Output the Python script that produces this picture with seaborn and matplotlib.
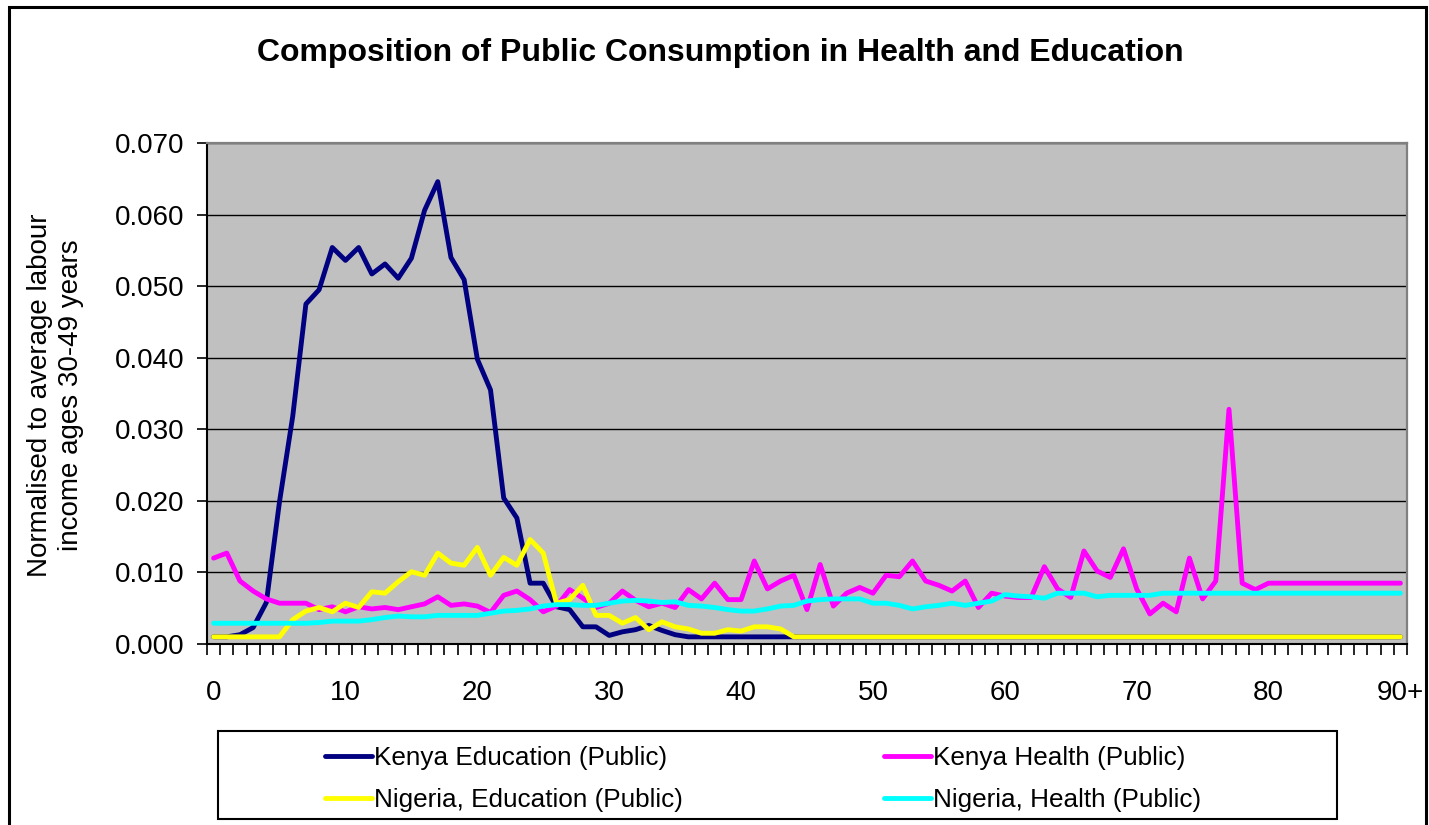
import numpy as np
import pandas as pd
import seaborn as sns
import matplotlib.pyplot as plt
from matplotlib.lines import Line2D
from matplotlib.patches import Rectangle
from matplotlib.ticker import FixedLocator

# eta 0..90 (90 = 90+)
ages = list(range(91))
age_ticks = [0, 10, 20, 30, 40, 50, 60, 70, 80, 90]
age_labels = ['0', '10', '20', '30', '40', '50', '60', '70', '80', '90+']
y_ticks = [0.0, 0.01, 0.02, 0.03, 0.04, 0.05, 0.06, 0.07]

kenya_edu = [
    0.0010, 0.0010, 0.0013, 0.0023, 0.0058, 0.0199, 0.0318, 0.0475, 0.0495, 0.0554,
    0.0536, 0.0554, 0.0517, 0.0531, 0.0511, 0.0539, 0.0606, 0.0646, 0.0540, 0.0509,
    0.0398, 0.0355, 0.0204, 0.0176, 0.0085, 0.0085, 0.0052, 0.0048, 0.0024, 0.0024,
    0.0012, 0.0017, 0.0020, 0.0026, 0.0019, 0.0013, 0.0010, 0.0010, 0.0010, 0.0010,
    0.0010, 0.0010, 0.0010, 0.0010, 0.0010, 0.0010, 0.0010, 0.0010, 0.0010, 0.0010,
    0.0010, 0.0010, 0.0010, 0.0010, 0.0010, 0.0010, 0.0010, 0.0010, 0.0010, 0.0010,
    0.0010, 0.0010, 0.0010, 0.0010, 0.0010, 0.0010, 0.0010, 0.0010, 0.0010, 0.0010,
    0.0010, 0.0010, 0.0010, 0.0010, 0.0010, 0.0010, 0.0010, 0.0010, 0.0010, 0.0010,
    0.0010, 0.0010, 0.0010, 0.0010, 0.0010, 0.0010, 0.0010, 0.0010, 0.0010, 0.0010,
    0.0010,
]

kenya_health = [
    0.0120, 0.0127, 0.0088, 0.0074, 0.0063, 0.0057, 0.0057, 0.0057, 0.0048, 0.0052,
    0.0045, 0.0052, 0.0049, 0.0051, 0.0048, 0.0052, 0.0056, 0.0066, 0.0054, 0.0056,
    0.0053, 0.0044, 0.0068, 0.0074, 0.0062, 0.0045, 0.0053, 0.0076, 0.0064, 0.0051,
    0.0057, 0.0074, 0.0061, 0.0052, 0.0057, 0.0051, 0.0076, 0.0063, 0.0085, 0.0062,
    0.0062, 0.0116, 0.0077, 0.0088, 0.0096, 0.0048, 0.0111, 0.0053, 0.0071, 0.0079,
    0.0071, 0.0096, 0.0094, 0.0116, 0.0088, 0.0082, 0.0074, 0.0088, 0.0051, 0.0071,
    0.0067, 0.0065, 0.0065, 0.0108, 0.0077, 0.0065, 0.0130, 0.0102, 0.0093, 0.0133,
    0.0077, 0.0042, 0.0057, 0.0045, 0.0120, 0.0063, 0.0088, 0.0328, 0.0085, 0.0076,
    0.0085, 0.0085, 0.0085, 0.0085, 0.0085, 0.0085, 0.0085, 0.0085, 0.0085, 0.0085,
    0.0085,
]

nigeria_edu = [
    0.0010, 0.0010, 0.0010, 0.0010, 0.0010, 0.0010, 0.0034, 0.0046, 0.0051, 0.0045,
    0.0057, 0.0051, 0.0073, 0.0071, 0.0087, 0.0101, 0.0096, 0.0127, 0.0113, 0.0110,
    0.0135, 0.0096, 0.0121, 0.0110, 0.0146, 0.0127, 0.0057, 0.0062, 0.0082, 0.0040,
    0.0040, 0.0029, 0.0037, 0.0020, 0.0031, 0.0024, 0.0021, 0.0015, 0.0015, 0.0020,
    0.0018, 0.0024, 0.0024, 0.0021, 0.0010, 0.0010, 0.0010, 0.0010, 0.0010, 0.0010,
    0.0010, 0.0010, 0.0010, 0.0010, 0.0010, 0.0010, 0.0010, 0.0010, 0.0010, 0.0010,
    0.0010, 0.0010, 0.0010, 0.0010, 0.0010, 0.0010, 0.0010, 0.0010, 0.0010, 0.0010,
    0.0010, 0.0010, 0.0010, 0.0010, 0.0010, 0.0010, 0.0010, 0.0010, 0.0010, 0.0010,
    0.0010, 0.0010, 0.0010, 0.0010, 0.0010, 0.0010, 0.0010, 0.0010, 0.0010, 0.0010,
    0.0010,
]

nigeria_health = [
    0.0029, 0.0029, 0.0029, 0.0029, 0.0029, 0.0029, 0.0029, 0.0029, 0.0030, 0.0032,
    0.0032, 0.0032, 0.0034, 0.0037, 0.0039, 0.0038, 0.0038, 0.0040, 0.0040, 0.0040,
    0.0040, 0.0043, 0.0046, 0.0047, 0.0049, 0.0053, 0.0055, 0.0055, 0.0054, 0.0054,
    0.0057, 0.0060, 0.0061, 0.0060, 0.0058, 0.0059, 0.0054, 0.0053, 0.0051, 0.0048,
    0.0046, 0.0046, 0.0049, 0.0053, 0.0054, 0.0060, 0.0062, 0.0063, 0.0063, 0.0063,
    0.0057, 0.0057, 0.0054, 0.0049, 0.0052, 0.0054, 0.0057, 0.0054, 0.0057, 0.0060,
    0.0069, 0.0067, 0.0066, 0.0064, 0.0071, 0.0071, 0.0071, 0.0066, 0.0068, 0.0068,
    0.0068, 0.0068, 0.0071, 0.0071, 0.0071, 0.0071, 0.0071, 0.0071, 0.0071, 0.0071,
    0.0071, 0.0071, 0.0071, 0.0071, 0.0071, 0.0071, 0.0071, 0.0071, 0.0071, 0.0071,
    0.0071,
]

series_names = ['Kenya Education (Public)', 'Kenya Health (Public)',
                'Nigeria, Education (Public)', 'Nigeria, Health (Public)']
series_colors = ['#000080', '#FF00FF', '#FFFF00', '#00FFFF']
series_values = [kenya_edu, kenya_health, nigeria_edu, nigeria_health]

# formato lungo per seaborn
df = pd.concat([pd.DataFrame({'age': ages, 'value': v, 'series': n})
                for n, v in zip(series_names, series_values)], ignore_index=True)

sns.set_theme(style='white')
plt.rcParams['font.family'] = ['Liberation Sans', 'DejaVu Sans']
plt.rcParams['text.color'] = 'black'
plt.rcParams['xtick.color'] = 'black'
plt.rcParams['ytick.color'] = 'black'

W, H = 1429, 825
fig = plt.figure(figsize=(W / 100, H / 100), dpi=100)
fig.patch.set_facecolor('white')

ax = fig.add_axes([207 / W, 1 - 644 / H, 1200 / W, 501 / H])
ax.set_facecolor('#C0C0C0')

sns.lineplot(data=df, x='age', y='value', hue='series', hue_order=series_names,
             palette=series_colors, linewidth=3.5, errorbar=None, legend=False, ax=ax)

ax.set_xlim(-0.5, 90.5)
ax.set_ylim(0, 0.07)
ax.set_xlabel('')
ax.set_ylabel('')

# griglia orizzontale nera
ax.set_axisbelow(True)
ax.yaxis.grid(True, color='black', linewidth=1.0)
ax.xaxis.grid(False)

ax.yaxis.set_major_locator(FixedLocator(y_ticks))
ax.set_yticklabels([f'{t:.3f}' for t in y_ticks])
ax.xaxis.set_major_locator(FixedLocator(age_ticks))
ax.set_xticklabels(age_labels)
ax.xaxis.set_minor_locator(FixedLocator([a - 0.5 for a in ages] + [90.5]))

ax.tick_params(axis='x', which='major', length=0, pad=26, labelsize=20)
ax.tick_params(axis='x', which='minor', length=8, width=1.2, direction='out', bottom=True)
ax.tick_params(axis='y', which='major', length=7, width=1.2, direction='out',
               left=True, pad=9, labelsize=20)

for s in ['left', 'bottom']:
    ax.spines[s].set_color('black')
    ax.spines[s].set_linewidth(1.5)
for s in ['top', 'right']:
    ax.spines[s].set_color('#808080')
    ax.spines[s].set_linewidth(1.6)

fig.text(720 / W, 1 - 53 / H, 'Composition of Public Consumption in Health and Education',
         ha='center', va='center', fontsize=23, fontweight='bold')
fig.text(56 / W, 1 - 395 / H, 'Normalised to average labour\nincome ages 30-49 years',
         ha='center', va='center', rotation=90, fontsize=20, linespacing=1.25)

# cornice del grafico
fig.add_artist(Rectangle((9 / W, -0.05), (1426 - 9) / W, 1.05 - 7 / H,
                         transform=fig.transFigure, fill=False, edgecolor='black', linewidth=2.2))

# riquadro legenda
fig.add_artist(Rectangle((218 / W, 1 - 819 / H), 1119 / W, 88 / H,
                         transform=fig.transFigure, fill=False, edgecolor='black', linewidth=1.5))

order = [0, 2, 1, 3]
handles = [Line2D([0], [0], color=series_colors[i], linewidth=3.5) for i in order]
labels = [series_names[i] for i in order]
fig.legend(handles, labels, ncol=2, loc='upper left', bbox_to_anchor=(325 / W, 1 - 746 / H),
           frameon=False, fontsize=18.8, handlelength=1.8, handletextpad=0.08,
           columnspacing=7.7, labelspacing=0.68, borderpad=0, borderaxespad=0)

fig.savefig('out.png', dpi=100)
